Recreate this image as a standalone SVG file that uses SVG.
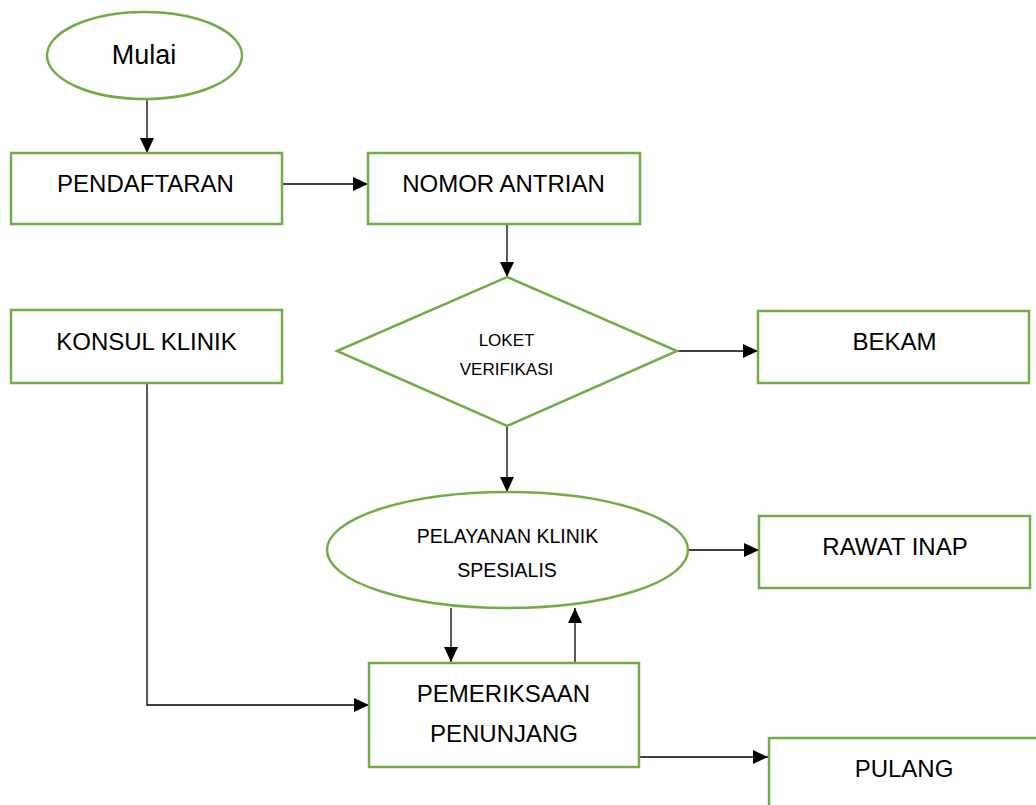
<svg xmlns="http://www.w3.org/2000/svg" width="1036" height="805" viewBox="0 0 1036 805">
<style>
.n{fill:#fff;stroke:#70AD47;stroke-width:2.5}
.t{font-family:"Liberation Sans",Arial,sans-serif;font-size:24px;fill:#000;text-anchor:middle}
.b{font-size:27px}
.s{font-family:"Liberation Sans",Arial,sans-serif;font-size:17px;fill:#000;text-anchor:middle}
.m{font-family:"Liberation Sans",Arial,sans-serif;font-size:19.5px;fill:#000;text-anchor:middle}
.c{fill:none;stroke:#000;stroke-width:1.3}
</style>
<defs>
<marker id="ah" markerUnits="userSpaceOnUse" markerWidth="15" markerHeight="14" refX="15" refY="7" orient="auto">
<path d="M0,0 L15,7 L0,14 z" fill="#000"/>
</marker>
</defs>
<rect width="1036" height="805" fill="#fff"/>
<g id="connectors">
<path class="c" d="M147,99 V153" marker-end="url(#ah)"/>
<path class="c" d="M282,184 H368" marker-end="url(#ah)"/>
<path class="c" d="M507,224 V277" marker-end="url(#ah)"/>
<path class="c" d="M677,351 H758" marker-end="url(#ah)"/>
<path class="c" d="M507,426 V492" marker-end="url(#ah)"/>
<path class="c" d="M688,550 H759" marker-end="url(#ah)"/>
<path class="c" d="M451,608 V662" marker-end="url(#ah)"/>
<path class="c" d="M575,662 V608" marker-end="url(#ah)"/>
<path class="c" d="M147,383 V705 H369" marker-end="url(#ah)"/>
<path class="c" d="M639,757 H768" marker-end="url(#ah)"/>
</g>
<g id="mulai">
<ellipse class="n" cx="144.5" cy="55.5" rx="97.5" ry="43.5"/>
<text class="t b" x="144" y="64">Mulai</text>
</g>
<g id="pendaftaran">
<rect class="n" x="11" y="153" width="271" height="71"/>
<text class="t" x="145.5" y="192">PENDAFTARAN</text>
</g>
<g id="nomor-antrian">
<rect class="n" x="368" y="153" width="272" height="71"/>
<text class="t" x="503.5" y="192">NOMOR ANTRIAN</text>
</g>
<g id="konsul-klinik">
<rect class="n" x="11" y="310" width="271" height="73"/>
<text class="t" x="146.5" y="350">KONSUL KLINIK</text>
</g>
<g id="loket-verifikasi">
<polygon class="n" points="507,277 677,351 507,426 337,351"/>
<text class="s" x="506.5" y="346">LOKET</text>
<text class="s" x="506.5" y="375">VERIFIKASI</text>
</g>
<g id="bekam">
<rect class="n" x="758" y="311" width="271" height="72"/>
<text class="t" x="894.5" y="350">BEKAM</text>
</g>
<g id="pelayanan">
<ellipse class="n" cx="507.5" cy="550" rx="180.5" ry="58"/>
<text class="m" x="507.5" y="543">PELAYANAN KLINIK</text>
<text class="m" x="507" y="577">SPESIALIS</text>
</g>
<g id="rawat-inap">
<rect class="n" x="759" y="516" width="271" height="72"/>
<text class="t" x="895" y="555">RAWAT INAP</text>
</g>
<g id="pemeriksaan">
<rect class="n" x="369" y="663" width="270" height="104"/>
<text class="t" x="503.5" y="702">PEMERIKSAAN</text>
<text class="t" x="504" y="742">PENUNJANG</text>
</g>
<g id="pulang">
<rect class="n" x="769" y="738" width="271" height="72"/>
<text class="t" x="904" y="777">PULANG</text>
</g>
</svg>
